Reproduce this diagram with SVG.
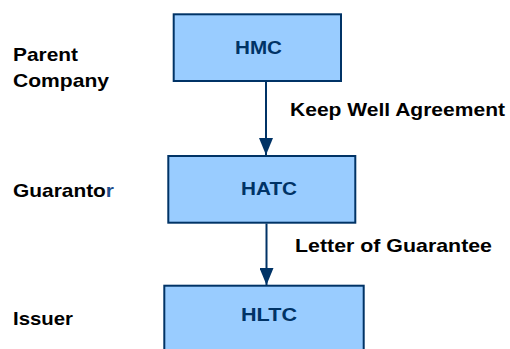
<svg xmlns="http://www.w3.org/2000/svg" width="510" height="349" viewBox="0 0 510 349">
  <style>
    .box { fill: #99CCFF; stroke: #003366; stroke-width: 2; }
    .boxtxt { font-family: "Liberation Sans", Arial, sans-serif; font-weight: bold; font-size: 19px; fill: #003366; }
    .lbl { font-family: "Liberation Sans", Arial, sans-serif; font-weight: bold; font-size: 19px; fill: #000000; }
    .conn { stroke: #003366; stroke-width: 2; fill: none; marker-end: url(#arrow); }
  </style>
  <defs>
    <marker id="arrow" markerUnits="userSpaceOnUse" markerWidth="17" markerHeight="14" refX="17" refY="7" orient="auto" viewBox="0 0 17 14">
      <path d="M0,0 L17,7 L0,14 z" fill="#003366"/>
    </marker>
  </defs>
  <rect width="510" height="349" fill="#FFFFFF"/>

  <g id="labels">
    <text class="lbl" x="13" y="60.5" textLength="65" lengthAdjust="spacingAndGlyphs">Parent</text>
    <text class="lbl" x="13" y="86.5" textLength="96" lengthAdjust="spacingAndGlyphs">Company</text>
    <text class="lbl" x="13" y="196.5" textLength="101" lengthAdjust="spacingAndGlyphs">Guaranto<tspan fill="#1F4E8C">r</tspan></text>
    <text class="lbl" x="13" y="325" textLength="60" lengthAdjust="spacingAndGlyphs">Issuer</text>
  </g>

  <g id="connectors">
    <line class="conn" x1="266" y1="82" x2="266" y2="155"/>
    <line class="conn" x1="266.5" y1="223.5" x2="266.5" y2="285"/>
    <text class="lbl" x="290" y="116" textLength="215" lengthAdjust="spacingAndGlyphs">Keep Well Agreement</text>
    <text class="lbl" x="295" y="252.3" textLength="197" lengthAdjust="spacingAndGlyphs">Letter of Guarantee</text>
  </g>

  <g id="node-hmc">
    <rect class="box" x="173.7" y="14.3" width="167.3" height="66.7"/>
    <text class="boxtxt" x="235" y="54" textLength="47" lengthAdjust="spacingAndGlyphs">HMC</text>
  </g>
  <g id="node-hatc">
    <rect class="box" x="168.3" y="156" width="187" height="66.7"/>
    <text class="boxtxt" x="241" y="195" textLength="56" lengthAdjust="spacingAndGlyphs">HATC</text>
  </g>
  <g id="node-hltc">
    <rect class="box" x="164.3" y="285.7" width="199.4" height="70"/>
    <text class="boxtxt" x="241" y="321" textLength="56" lengthAdjust="spacingAndGlyphs">HLTC</text>
  </g>
</svg>
